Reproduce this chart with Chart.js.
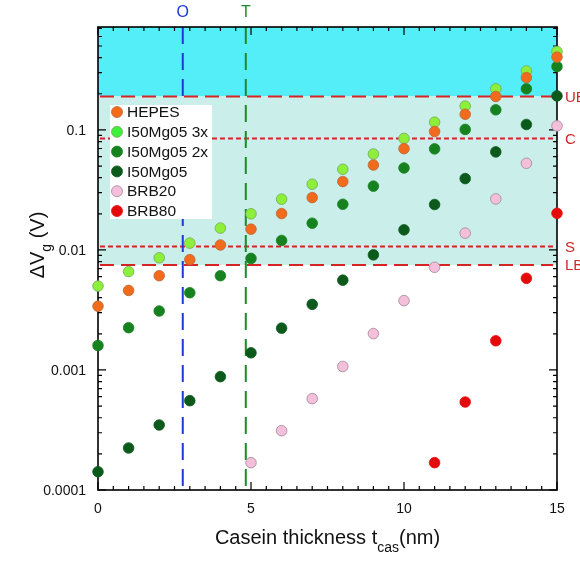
<!DOCTYPE html>
<html>
<head>
<meta charset="utf-8">
<script src="https://cdn.jsdelivr.net/npm/chart.js@4"></script>
<style>
	body { margin: 0; background: #fff; }
	#wrap { width: 580px; height: 561px; position: relative; }
</style>
</head>
<body>
<div id="wrap"><canvas id="caseinChart"></canvas></div>
<script>
	// thickness steps (nm)
	const thickness = [0, 1, 2, 3, 4, 5, 6, 7, 8, 9, 10, 11, 12, 13, 14, 15];

	// ΔVg (V) per buffer
	const hepes   = [0.0034, 0.0046, 0.0061, 0.0083, 0.011, 0.0149, 0.0201, 0.0273, 0.0371, 0.051, 0.0698, 0.097, 0.135, 0.19, 0.273, 0.404];
	const mg05x3  = [0.0050, 0.0066, 0.0086, 0.0114, 0.0152, 0.020, 0.0265, 0.0353, 0.047, 0.063, 0.085, 0.116, 0.158, 0.22, 0.31, 0.45];
	const mg05x2  = [0.0016, 0.00225, 0.0031, 0.0044, 0.0061, 0.0085, 0.012, 0.0167, 0.024, 0.034, 0.0482, 0.0695, 0.101, 0.147, 0.22, 0.337];
	const mg05    = [0.000142, 0.000224, 0.000348, 0.000555, 0.00088, 0.00139, 0.00223, 0.00352, 0.0056, 0.0091, 0.0147, 0.0239, 0.0393, 0.0656, 0.111, 0.192];
	const brb20   = [null, null, null, null, null, 0.000169, 0.000312, 0.000577, 0.00107, 0.00201, 0.00378, 0.00717, 0.0138, 0.0266, 0.0527, 0.108];
	const brb80   = [null, null, null, null, null, null, null, null, null, null, null, 0.000169, 0.000541, 0.00175, 0.0058, 0.0202];

	const seriesLabels = ['HEPES', 'I50Mg05 3x', 'I50Mg05 2x', 'I50Mg05', 'BRB20', 'BRB80'];
	const seriesValues = [hepes, mg05x3, mg05x2, mg05, brb20, brb80];
	const seriesFill   = ['#f26a1b', '#8cf03a', '#16821f', '#0b5a1c', '#f3bfdb', '#e40a0c'];
	const seriesEdge   = ['#b8693a', '#74a85a', '#16821f', '#0b5a1c', '#a08894', '#e40a0c'];

	// horizontal reference levels (V)
	const levelLabels = ['UB', 'C', 'S', 'LB'];
	const levelValues = [0.19, 0.085, 0.0107, 0.0075];
	const levelDash   = [[14, 7], [5, 3], [5, 3], [14, 7]];

	// vertical markers (nm)
	const markLabels = ['O', 'T'];
	const markValues = [2.77, 4.83];
	const markColors = ['#1b3ad6', '#1f8a2c'];

	const xTickLabels = [0, 5, 10, 15];
	const yTickLabels = ['0.1', '0.01', '0.001', '0.0001'];
	const yMin = 0.0001, yMax = 0.72;

	const FONT = '"Liberation Sans", Arial, sans-serif';

	const datasets = seriesLabels.map((label, i) => ({
		label: label,
		data: thickness.map((t, k) => seriesValues[i][k] == null ? null : { x: t, y: seriesValues[i][k] }).filter(p => p),
		backgroundColor: seriesFill[i],
		borderColor: seriesEdge[i],
		borderWidth: 0.8,
		pointRadius: 5.3,
		pointHoverRadius: 5.3,
		showLine: false,
		clip: false
	}));

	const decorPlugin = {
		id: 'decor',
		beforeDatasetsDraw(chart) {
			const { ctx, chartArea: a, scales: { x, y } } = chart;
			ctx.save();
			// bands
			const yUB = y.getPixelForValue(levelValues[0]);
			const yLB = y.getPixelForValue(levelValues[3]);
			ctx.fillStyle = '#53eef8';
			ctx.fillRect(a.left, a.top, a.right - a.left, yUB - a.top);
			ctx.fillStyle = '#caeee9';
			ctx.fillRect(a.left, yUB, a.right - a.left, yLB - yUB);

			// horizontal dashed levels
			ctx.strokeStyle = '#d42424';
			ctx.lineWidth = 2;
			levelValues.forEach((v, i) => {
				const py = y.getPixelForValue(v);
				ctx.setLineDash(levelDash[i]);
				ctx.beginPath();
				ctx.moveTo(a.left + 2, py);
				ctx.lineTo(a.right - 4, py);
				ctx.stroke();
			});

			// vertical markers
			markValues.forEach((v, i) => {
				const px = x.getPixelForValue(v);
				ctx.strokeStyle = markColors[i];
				ctx.setLineDash([17, 9]);
				ctx.beginPath();
				ctx.moveTo(px, a.top);
				ctx.lineTo(px, a.bottom);
				ctx.stroke();
			});
			ctx.setLineDash([]);

			// frame
			ctx.strokeStyle = '#000';
			ctx.lineWidth = 1.6;
			ctx.strokeRect(a.left, a.top, a.right - a.left, a.bottom - a.top);

			// x ticks every 0.5, inward on top and bottom
			ctx.lineWidth = 1.2;
			ctx.beginPath();
			for (let t = 0; t <= 15; t += 0.5) {
				const px = x.getPixelForValue(t);
				const len = (t % 5 === 0) ? 8 : 4;
				ctx.moveTo(px, a.bottom); ctx.lineTo(px, a.bottom - len);
				ctx.moveTo(px, a.top); ctx.lineTo(px, a.top + len);
			}
			// y log ticks, inward on left and right
			for (let d = -4; d <= 0; d++) {
				for (let k = 1; k <= 9; k++) {
					const v = k * Math.pow(10, d);
					if (v < yMin * 0.999 || v > yMax) continue;
					const py = y.getPixelForValue(v);
					const len = (k === 1) ? 8 : 4;
					ctx.moveTo(a.left, py); ctx.lineTo(a.left + len, py);
					ctx.moveTo(a.right, py); ctx.lineTo(a.right - len, py);
				}
			}
			ctx.stroke();
			ctx.restore();
		},
		afterDatasetsDraw(chart) {
			const { ctx, chartArea: a, scales: { x, y } } = chart;
			ctx.save();

			// tick labels
			ctx.fillStyle = '#111';
			ctx.font = '14px ' + FONT;
			ctx.textAlign = 'center';
			ctx.textBaseline = 'middle';
			xTickLabels.forEach(t => ctx.fillText(String(t), x.getPixelForValue(t), 509));
			ctx.textAlign = 'right';
			yTickLabels.forEach(s => ctx.fillText(s, 86, y.getPixelForValue(parseFloat(s)) + 1));

			// x title with subscript
			ctx.textAlign = 'left';
			ctx.textBaseline = 'alphabetic';
			const big = '20px ' + FONT, small = '14px ' + FONT;
			ctx.font = big;
			const p1 = 'Casein thickness t', p3 = '(nm)';
			const w1 = ctx.measureText(p1).width, w3 = ctx.measureText(p3).width;
			ctx.font = small;
			const w2 = ctx.measureText('cas').width;
			let sx = (a.left + a.right) / 2 - (w1 + w2 + w3) / 2;
			ctx.font = big; ctx.fillText(p1, sx, 544);
			ctx.font = small; ctx.fillText('cas', sx + w1, 552);
			ctx.font = big; ctx.fillText(p3, sx + w1 + w2, 544);

			// y title, rotated
			ctx.save();
			ctx.translate(44, 245);
			ctx.rotate(-Math.PI / 2);
			ctx.font = big;
			const q1 = 'ΔV', q3 = ' (V)';
			const v1 = ctx.measureText(q1).width, v3 = ctx.measureText(q3).width;
			ctx.font = small;
			const v2 = ctx.measureText('g').width;
			let sy = -(v1 + v2 + v3) / 2;
			ctx.font = big; ctx.fillText(q1, sy, 0);
			ctx.font = small; ctx.fillText('g', sy + v1, 7);
			ctx.font = big; ctx.fillText(q3, sy + v1 + v2, 0);
			ctx.restore();

			// marker labels above plot
			ctx.font = '16px ' + FONT;
			ctx.textAlign = 'center';
			ctx.textBaseline = 'middle';
			markValues.forEach((v, i) => {
				ctx.fillStyle = markColors[i];
				ctx.fillText(markLabels[i], x.getPixelForValue(v), 13);
			});

			// level labels at right
			ctx.font = '15px ' + FONT;
			ctx.textAlign = 'left';
			ctx.fillStyle = '#d02828';
			levelValues.forEach((v, i) => ctx.fillText(levelLabels[i], 565, y.getPixelForValue(v) + 1));

			// legend box
			ctx.fillStyle = '#fff';
			ctx.fillRect(110, 105, 102, 114);
			ctx.font = '15.5px ' + FONT;
			seriesLabels.forEach((label, i) => {
				const cy = 112 + i * 19.8;
				ctx.beginPath();
				ctx.arc(117, cy, 5.5, 0, Math.PI * 2);
				ctx.fillStyle = i === 1 ? '#3ef03a' : seriesFill[i];
				ctx.fill();
				ctx.lineWidth = 0.8;
				ctx.strokeStyle = seriesEdge[i];
				ctx.stroke();
				ctx.fillStyle = '#111';
				ctx.fillText(label, 127, cy + 1);
			});
			ctx.restore();
		}
	};

	const chart = new Chart(document.getElementById('caseinChart').getContext('2d'), {
		type: 'scatter',
		data: { datasets: datasets },
		options: {
			responsive: true,
			maintainAspectRatio: false,
			animation: false,
			layout: { padding: { left: 98, right: 23, top: 27, bottom: 71 } },
			scales: {
				x: { type: 'linear', min: 0, max: 15, display: false },
				y: { type: 'logarithmic', min: yMin, max: yMax, display: false }
			},
			plugins: {
				legend: { display: false },
				tooltip: { enabled: false }
			}
		},
		plugins: [decorPlugin]
	});
</script>
</body>
</html>
